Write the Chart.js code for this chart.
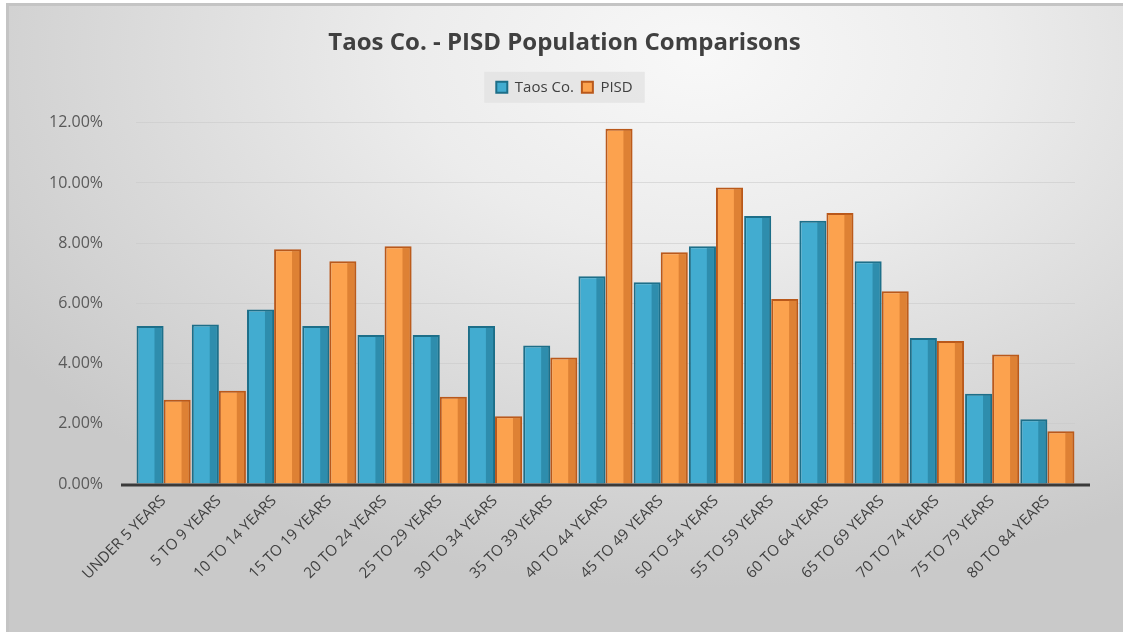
<!DOCTYPE html>
<html>
<head>
<meta charset="utf-8">
<script src="https://cdn.jsdelivr.net/npm/chart.js@4/dist/chart.umd.min.js"></script>
<style>
  html, body { margin: 0; padding: 0; background: #ffffff; }
  #frame {
    position: absolute; left: 6px; top: 3px; width: 1117px; height: 629px;
    background: radial-gradient(ellipse 75% 85% at 62% 8%, #f8f8f8 0%, #ececec 35%, #d9d9d9 70%, #c9c9c9 100%);
    border-top: 3px solid #c4c4c4; border-left: 3px solid #c4c4c4; box-sizing: border-box;
  }
  #wrap { position: absolute; left: 6px; top: 3px; width: 1117px; height: 629px; }
</style>
</head>
<body>
<div id="frame"></div>
<div id="wrap"><canvas id="c"></canvas></div>
<script>
const categories = ["UNDER 5 YEARS","5 TO 9 YEARS","10 TO 14 YEARS","15 TO 19 YEARS","20 TO 24 YEARS","25 TO 29 YEARS","30 TO 34 YEARS","35 TO 39 YEARS","40 TO 44 YEARS","45 TO 49 YEARS","50 TO 54 YEARS","55 TO 59 YEARS","60 TO 64 YEARS","65 TO 69 YEARS","70 TO 74 YEARS","75 TO 79 YEARS","80 TO 84 YEARS"];
const taosValues = [5.25, 5.3, 5.8, 5.25, 4.95, 4.95, 5.25, 4.6, 6.9, 6.7, 7.9, 8.9, 8.75, 7.4, 4.85, 3.0, 2.15];
const pisdValues = [2.8, 3.1, 7.8, 7.4, 7.9, 2.9, 2.25, 4.2, 11.8, 7.7, 9.85, 6.15, 9.0, 6.4, 4.75, 4.3, 1.75];
const yTicks = [0, 2, 4, 6, 8, 10, 12];
const seriesNames = ["Taos Co.", "PISD"];

const sideShade = {
  id: 'sideShade',
  afterDatasetsDraw(chart) {
    const ctx = chart.ctx;
    const shades = ['#1f7590', '#c5661f'];
    chart.data.datasets.forEach((ds, i) => {
      const meta = chart.getDatasetMeta(i);
      meta.data.forEach(bar => {
        const w = bar.width;
        const right = bar.x + w / 2;
        const sw = w * 0.3;
        ctx.save();
        ctx.fillStyle = shades[i];
        ctx.globalAlpha = 0.55;
        ctx.fillRect(right - sw - 1, bar.y + 1, sw, bar.base - bar.y - 1);
        ctx.restore();
      });
    });
  }
};

const baseLine = {
  id: 'baseLine',
  afterDatasetsDraw(chart) {
    const ctx = chart.ctx;
    const y = chart.scales.y.getPixelForValue(0);
    const a = chart.chartArea;
    ctx.save();
    ctx.strokeStyle = '#3a3a3a';
    ctx.lineWidth = 3;
    ctx.beginPath();
    ctx.moveTo(a.left - 15, y + 1);
    ctx.lineTo(a.right + 15, y + 1);
    ctx.stroke();
    ctx.restore();
  }
};

const legendGap = {
  id: 'legendGap',
  beforeInit(chart) {
    const origFit = chart.legend.fit;
    chart.legend.fit = function () {
      origFit.bind(chart.legend)();
      this.height += 18;
    };
  }
};

const legendBg = {
  id: 'legendBg',
  beforeDraw(chart) {
    const lg = chart.legend;
    if (!lg || !lg.legendHitBoxes.length) return;
    const ctx = chart.ctx;
    let minL = Infinity, maxR = -Infinity;
    lg.legendHitBoxes.forEach(b => { minL = Math.min(minL, b.left); maxR = Math.max(maxR, b.left + b.width); });
    ctx.save();
    ctx.fillStyle = 'rgba(226,226,226,0.75)';
    const top = lg.legendHitBoxes[0].top;
    ctx.fillRect(minL - 12, top - 8, (maxR - minL) + 24, lg.legendHitBoxes[0].height + 16);
    ctx.restore();
  }
};

new Chart(document.getElementById('c'), {
  type: 'bar',
  data: {
    labels: categories,
    datasets: [
      { label: seriesNames[0], data: taosValues, backgroundColor: '#42acd0', borderColor: '#1d6e88', borderWidth: 2, borderSkipped: 'bottom' },
      { label: seriesNames[1], data: pisdValues, backgroundColor: '#fca24e', borderColor: '#b9581b', borderWidth: 2, borderSkipped: 'bottom' }
    ]
  },
  options: {
    responsive: true,
    maintainAspectRatio: false,
    animation: false,
    layout: { padding: { left: 0, right: 0, top: 0, bottom: 0 } },
    datasets: { bar: { categoryPercentage: 0.98, barPercentage: 1.0 } },
    plugins: {
      title: {
        display: true,
        text: 'Taos Co. - PISD Population Comparisons',
        color: '#404040',
        font: { family: 'Open Sans', size: 24, weight: 'bold' },
        padding: { top: 26, bottom: 14 }
      },
      legend: {
        display: true,
        position: 'top',
        labels: {
          color: '#404040',
          font: { family: 'Open Sans', size: 15 },
          boxWidth: 11, boxHeight: 11, padding: 8
        }
      },
      tooltip: { enabled: false }
    },
    scales: {
      x: {
        grid: { display: false, drawTicks: false },
        border: { display: false },
        ticks: {
          color: '#404040', autoSkip: false, maxRotation: 45, minRotation: 45,
          font: { family: 'Open Sans', size: 15 }, padding: 8
        },
        afterFit(scale) { scale.height = 148; }
      },
      y: {
        min: 0, max: 12,
        afterBuildTicks(scale) { scale.ticks = yTicks.map(v => ({ value: v })); },
        grid: { color: 'rgba(200,200,200,0.55)', lineWidth: 1, drawTicks: false },
        border: { display: false },
        ticks: {
          color: '#595959', font: { family: 'Open Sans', size: 16 }, padding: 33,
          callback: v => v.toFixed(2) + '%'
        },
        afterFit(scale) { scale.width = 130; }
      },
      yRight: {
        position: 'right',
        min: 0, max: 12,
        grid: { display: false, drawTicks: false },
        border: { display: false },
        ticks: { display: false },
        afterFit(scale) { scale.width = 48; }
      }
    }
  },
  plugins: [legendGap, legendBg, sideShade, baseLine]
});
</script>
</body>
</html>
